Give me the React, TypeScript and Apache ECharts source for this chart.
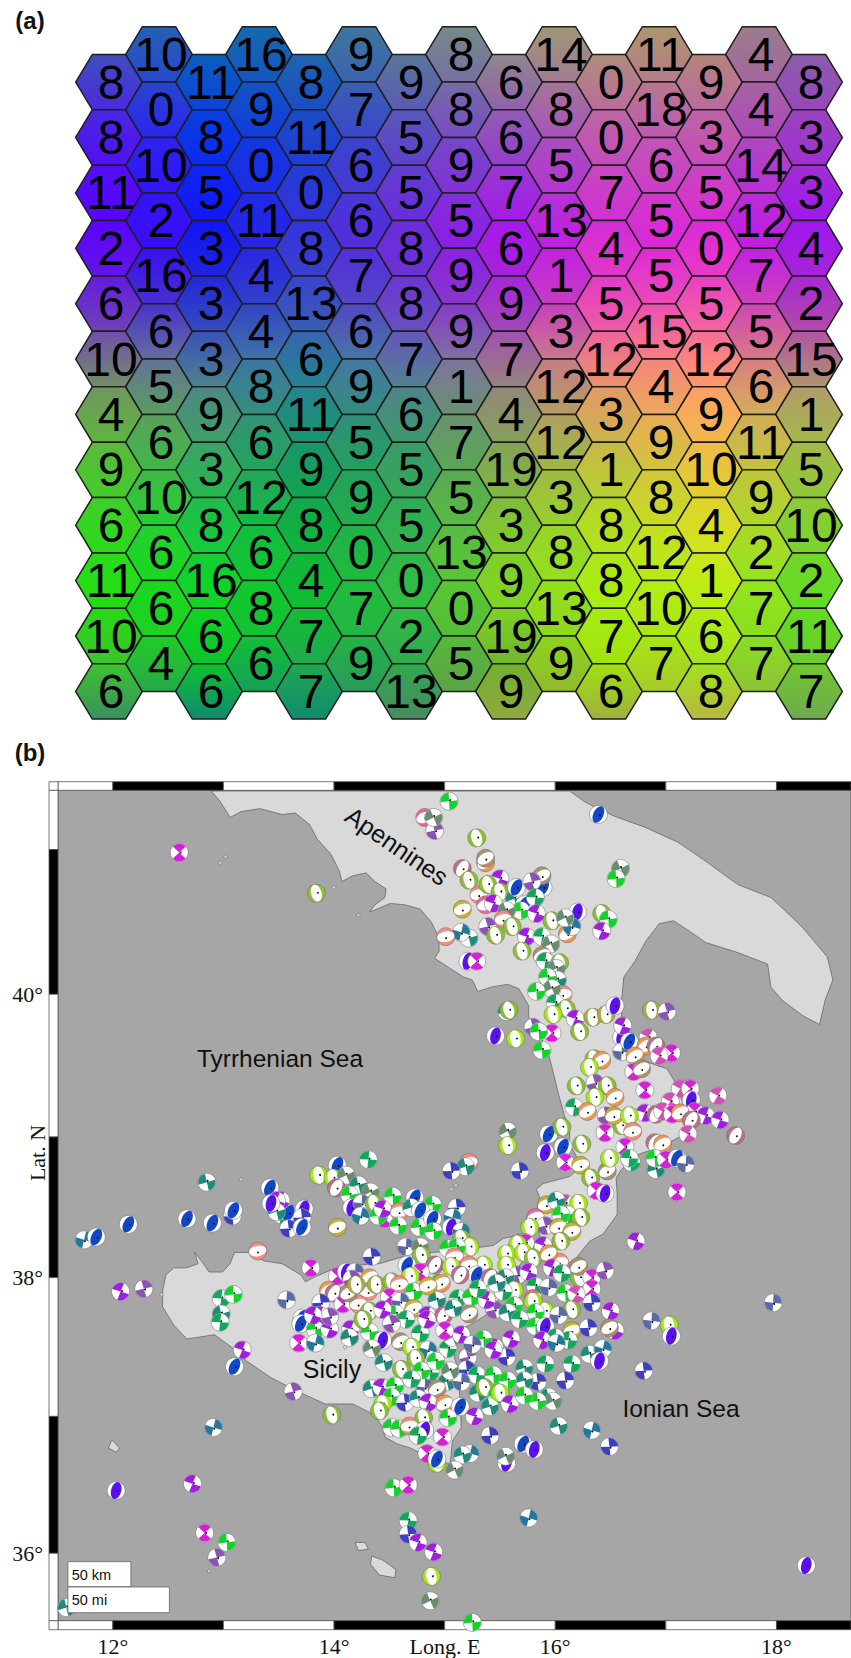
import React, { useEffect, useRef } from "react";
import * as echarts from "echarts";

// ---------- Panel (a): hit counts per hexagon, one list per column ----------
const hexCounts: number[][] = [
  [8, 8, 11, 2, 6, 10, 4, 9, 6, 11, 10, 6],
  [10, 0, 10, 2, 16, 6, 5, 6, 10, 6, 6, 4],
  [11, 8, 5, 3, 3, 3, 9, 3, 8, 16, 6, 6],
  [16, 9, 0, 11, 4, 4, 8, 6, 12, 6, 8, 6],
  [8, 11, 0, 8, 13, 6, 11, 9, 8, 4, 7, 7],
  [9, 7, 6, 6, 7, 6, 9, 5, 9, 0, 7, 9],
  [9, 5, 5, 8, 8, 7, 6, 5, 5, 0, 2, 13],
  [8, 8, 9, 5, 9, 9, 1, 7, 5, 13, 0, 5],
  [6, 6, 7, 6, 9, 7, 4, 19, 3, 9, 19, 9],
  [14, 8, 5, 13, 1, 3, 12, 12, 3, 8, 13, 9],
  [0, 0, 7, 4, 5, 12, 3, 1, 8, 8, 7, 6],
  [11, 18, 6, 5, 5, 15, 4, 9, 8, 12, 10, 7],
  [9, 3, 5, 0, 5, 12, 9, 10, 4, 1, 6, 8],
  [4, 4, 14, 12, 7, 5, 6, 11, 9, 2, 7, 7],
  [8, 3, 3, 4, 2, 15, 1, 5, 10, 2, 11, 7],
];

// colours at every 2nd column (0,2,...,14) and at these row positions
const colourRows = [-0.26, 1.55, 3.35, 4.79, 5.43, 6.24, 7.32, 8.58, 9.85, 11.11, 11.83];
const colourGrid = [
  ["#3d5ab5", "#0a68b0", "#1f6ba8", "#5a8090", "#909480", "#ac9a6c", "#b09070", "#8565a5"],
  ["#4f14f0", "#0a30f0", "#1a40d0", "#5a48c8", "#9048c5", "#c055b5", "#c055b5", "#a038c8"],
  ["#5c00ff", "#1510f5", "#3a30dc", "#6e25e0", "#aa10f0", "#d525dd", "#e020dc", "#a010f5"],
  ["#6a35c0", "#2f40c0", "#3a55b8", "#6a45c5", "#a03cc0", "#f050b0", "#f05fa8", "#b040b0"],
  ["#7a7090", "#4a6ab0", "#307a9f", "#5f70ac", "#a06f98", "#f07f80", "#ff8080", "#b07090"],
  ["#70a050", "#4f9078", "#20888a", "#4a8a80", "#908f70", "#e0a060", "#ffa860", "#b0a860"],
  ["#55c035", "#35a860", "#159a60", "#35a060", "#80a850", "#c0c040", "#e8c040", "#a0c040"],
  ["#30d820", "#15c840", "#10b040", "#30b050", "#80c830", "#b0e020", "#d8e020", "#80d030"],
  ["#20e010", "#10d820", "#10c030", "#30c040", "#80d820", "#a8f010", "#b8f010", "#60e020"],
  ["#40c030", "#10c030", "#20a850", "#30a850", "#70b030", "#a0e010", "#a0e020", "#70c830"],
  ["#3a9060", "#108a70", "#108a70", "#4a8a60", "#90a840", "#a0b040", "#b8b840", "#70a850"],
];

// ---------- Panel (b): coast lines, [lon, lat] ----------
const peninsulaCoast = [
  [12.89,41.4],[12.97,41.33],[13.06,41.22],[13.16,41.26],[13.33,41.28],[13.53,41.24],[13.65,41.25],[13.78,41.17],[13.85,41.07],[13.97,40.97],
  [14.05,40.85],[14.07,40.78],[14.17,40.82],[14.29,40.84],[14.37,40.78],[14.47,40.73],[14.46,40.67],[14.37,40.62],[14.32,40.57],[14.51,40.63],
  [14.64,40.62],[14.78,40.59],[14.88,40.5],[14.95,40.39],[14.95,40.3],[14.91,40.25],[15.05,40.18],[15.17,40.12],[15.25,40.1],[15.3,40.02],
  [15.42,40.05],[15.57,40.07],[15.67,40.04],[15.76,39.92],[15.76,39.84],[15.86,39.72],[15.94,39.58],[15.98,39.46],[16.03,39.3],[16.08,39.16],
  [16.13,39.04],[16.13,38.95],[16.18,38.88],[16.23,38.79],[16.13,38.72],[15.89,38.67],[15.83,38.63],[15.86,38.57],[15.82,38.44],[15.86,38.3],
  [15.93,38.19],[15.97,38.11],[16.13,38.11],[16.19,38.14],[16.31,38.26],[16.43,38.31],[16.56,38.45],[16.56,38.59],[16.55,38.71],[16.59,38.76],
  [16.67,38.83],[16.76,38.88],[16.92,38.92],[17.05,38.97],[17.17,39.02],[17.22,39.13],[17.15,39.25],[17.08,39.39],[17.01,39.48],[16.82,39.53],
  [16.61,39.63],[16.54,39.73],[16.6,39.8],[16.6,39.96],[16.62,40.12],[16.72,40.23],[16.82,40.37],[16.94,40.49],[17.07,40.51],[17.21,40.44],
  [17.36,40.36],[17.65,40.29],[17.92,40.21],[17.95,40.05],[18.05,39.96],[18.24,39.85],[18.39,39.79],[18.44,39.96],[18.51,40.1],[18.46,40.26],
  [18.24,40.46],[18.05,40.6],[17.95,40.67],[17.65,40.76],[17.36,40.92],[17.11,41.05],[16.82,41.15],[16.53,41.23],[16.28,41.32],[16.13,41.4],
];
const sicilyCoast = [
  [12.45,37.91],[12.48,38.02],[12.55,38.07],[12.67,38.07],[12.77,38.1],[12.74,38.18],[12.8,38.12],[12.87,38.04],[12.99,38.04],[13.06,38.1],
  [13.1,38.18],[13.26,38.18],[13.36,38.12],[13.53,38.1],[13.7,38.02],[13.74,37.97],[13.84,38.01],[14.05,38.08],[14.41,38.1],[14.71,38.17],
  [15.07,38.19],[15.44,38.23],[15.53,38.28],[15.59,38.29],[15.72,38.32],[15.77,38.19],[15.68,38.09],[15.54,37.95],[15.45,37.77],[15.23,37.66],
  [15.09,37.61],[15.09,37.42],[15.12,37.35],[15.14,37.11],[15.15,36.92],[15.07,36.82],[15.05,36.66],[14.88,36.66],[14.79,36.73],[14.69,36.77],
  [14.57,36.8],[14.46,36.85],[14.44,36.92],[14.39,36.98],[14.32,37.03],[14.17,37.09],[13.92,37.09],[13.7,37.17],[13.43,37.28],[13.21,37.4],
  [13.09,37.49],[12.92,37.59],[12.67,37.56],[12.55,37.66],[12.45,37.79],
];
const maltaCoast = [[14.34,35.98],[14.44,35.95],[14.56,35.88],[14.55,35.82],[14.41,35.84],[14.33,35.92]];
const gozoCoast = [[14.19,36.08],[14.28,36.08],[14.31,36.03],[14.22,36.02]];
const pantelleriaCoast = [[11.99,36.83],[12.06,36.77],[12.03,36.74],[11.96,36.77]];
const tinyIslands = [[14.0,40.74],[14.22,40.55],[12.97,40.91],[13.02,40.95],[15.06,38.63],[15.1,38.66],[13.16,38.7],[12.44,37.88],[12.87,35.87],[14.1,37.5]];

// ---------- Panel (b): focal mechanisms, [lon, lat, SOM colour key] ----------
const northBalls: [number, number, string][] = [
  [15.04,41.33,"G"],[14.82,41.22,"H"],[14.91,41.13,"p"],[14.9,41.22,"A"],[15.29,41.08,"L"],[15.37,40.91,"O"],[15.37,40.94,"W"],[15.16,40.87,"R"],[15.31,40.69,"S"],
  [15.37,40.62,"H"],[15.5,40.8,"P"],[15.89,40.74,"B"],[15.88,40.82,"W"],[15.22,40.79,"L"],[15.39,40.76,"L"],[15.5,40.71,"L"],[15.44,40.63,"P"],
  [15.63,40.66,"T"],[15.65,40.74,"B"],[15.79,40.78,"p"],[15.72,40.62,"B"],[15.82,40.67,"g"],[15.69,40.58,"G"],[15.56,40.58,"A"],[15.83,40.56,"P"],
  [15.16,40.59,"N"],[15.97,40.51,"L"],[16.2,40.57,"V"],[16.11,40.42,"O"],[16.15,40.47,"t"],[16.09,40.53,"A"],[16.42,40.56,"L"],[16.48,40.52,"G"],[16.42,40.44,"P"],
  [15.53,40.52,"S"],[15.39,40.47,"p"],[15.61,40.47,"L"],[15.46,40.41,"L"],[15.74,40.4,"P"],[15.88,40.4,"g"],[15.96,40.35,"A"],[15.22,40.39,"T"],[15.15,40.43,"t"],
  [15.01,40.4,"S"],[15.21,40.23,"V"],[15.29,40.23,"M"],[15.7,40.3,"L"],[15.88,40.27,"W"],[15.91,40.23,"g"],[16.04,40.22,"L"],[16.01,40.18,"A"],[16.02,40.1,"T"],
  [15.93,40.12,"G"],[16.07,40.0,"S"],[15.97,40.04,"A"],[15.83,40.02,"G"],[15.56,39.88,"T"],[15.58,39.89,"L"],[16.0,39.94,"g"],[16.1,39.9,"L"],[15.98,39.86,"Y"],
  [16.39,41.24,"B"],[16.59,40.87,"A"],[16.55,40.8,"G"],[12.6,40.98,"M"],[13.84,40.7,"L"],
];
const calabriaBalls: [number, number, string][] = [
  [16.18,39.83,"P"],[16.22,39.74,"L"],[16.34,39.84,"l"],[16.46,39.86,"l"],[16.54,39.92,"V"],[16.87,39.89,"l"],[17.01,39.88,"p"],[15.46,39.71,"V"],[15.64,39.69,"Y"],
  [15.8,39.77,"p"],[15.97,39.73,"M"],[15.85,39.74,"G"],[15.88,39.61,"G"],[16.6,39.7,"V"],[16.61,39.78,"P"],[16.6,39.6,"K"],[16.67,39.67,"B"],[16.84,39.7,"m"],
  [16.82,39.64,"O"],[16.91,39.64,"R"],[17.05,39.59,"M"],[16.94,39.57,"m"],[16.72,39.57,"O"],[16.71,39.46,"M"],[16.78,39.48,"W"],[16.35,39.55,"L"],[16.42,39.54,"O"],
  [16.31,39.49,"Y"],[16.19,39.36,"L"],[16.36,39.38,"p"],[16.47,39.36,"L"],[16.54,39.28,"O"],[16.36,39.28,"Y"],[16.81,39.33,"M"],[17.13,39.34,"m"],[17.22,39.34,"M"],
  [17.47,39.29,"m"],[17.23,39.26,"V"],[17.04,39.25,"m"],[16.81,39.17,"P"],[16.91,39.16,"R"],[16.97,39.18,"m"],[17.06,39.16,"M"],[17.26,39.18,"M"],[17.13,39.17,"O"],
  [17.36,39.15,"P"],[17.49,39.12,"P"],[17.23,39.12,"R"],[17.2,39.02,"m"],[17.63,39.01,"R"],[16.17,39.21,"g"],[16.29,39.18,"O"],[16.46,39.15,"p"],[16.6,39.08,"L"],
  [16.53,39.15,"N"],[16.67,39.15,"Y"],[16.45,39.03,"M"],[16.7,39.04,"S"],[16.63,38.93,"M"],[15.57,39.04,"A"],[15.57,38.94,"Y"],[15.94,39.02,"B"],[16.06,39.07,"L"],
  [16.24,38.95,"L"],[15.91,38.89,"V"],[16.07,38.93,"B"],[16.09,38.82,"M"],[16.23,38.8,"N"],[16.47,38.76,"W"],[16.49,38.85,"Y"],[16.69,38.82,"g"],[16.67,38.85,"g"],
  [16.9,38.96,"R"],[16.97,38.95,"O"],[16.91,38.77,"T"],[16.9,38.85,"G"],[17.0,38.84,"M"],[17.1,38.85,"B"],[17.18,38.81,"K"],[15.68,38.76,"b"],[16.32,38.71,"L"],
  [16.37,38.62,"M"],[16.45,38.6,"V"],[17.1,38.61,"M"],
];
const messinaBalls: [number, number, string][] = [
  [15.92,38.52,"N"],[16.09,38.53,"m"],[16.01,38.55,"T"],[16.21,38.53,"Y"],[16.11,38.45,"G"],[16.05,38.45,"G"],[16.23,38.43,"L"],[15.82,38.43,"H"],[15.91,38.37,"p"],
  [15.77,38.36,"Y"],[16.03,38.36,"N"],[16.15,38.33,"N"],[16.05,38.26,"L"],[15.89,38.23,"P"],[15.73,38.25,"M"],[15.66,38.24,"Y"],[15.56,38.17,"Y"],[15.71,38.18,"Y"],
  [15.8,38.14,"L"],[16.04,38.11,"S"],[15.94,38.17,"O"],[15.56,38.09,"Y"],[16.22,38.0,"L"],[16.21,38.08,"W"],[16.33,38.0,"M"],[16.45,38.05,"p"],[15.66,38.02,"p"],
  [15.76,38.04,"P"],[15.97,38.07,"P"],[16.06,38.03,"g"],[15.55,38.0,"T"],[15.82,37.94,"g"],[15.94,37.93,"K"],[16.33,37.92,"M"],[15.63,37.91,"Y"],[15.53,37.9,"g"],
  [16.09,37.89,"G"],[16.19,37.88,"m"],[15.8,37.85,"H"],[16.33,37.82,"b"],[15.8,37.83,"Y"],[15.63,37.8,"G"],[16.15,37.77,"L"],[15.45,37.77,"p"],[15.91,37.76,"Y"],
  [15.57,37.75,"T"],[15.82,37.75,"G"],[16.03,37.73,"K"],[16.5,37.76,"P"],[15.68,37.7,"g"],[15.82,37.65,"G"],[15.91,37.65,"V"],[16.15,37.62,"N"],[16.3,37.64,"b"],
  [16.54,37.62,"P"],[16.49,37.64,"W"],[16.87,37.69,"K"],[15.6,37.56,"P"],[16.12,37.55,"g"],[16.0,37.57,"g"],[15.88,37.55,"P"],[16.01,37.53,"t"],[15.45,37.5,"P"],
  [15.56,37.43,"b"],[16.31,37.45,"T"],[16.43,37.49,"t"],[16.4,37.4,"V"],[16.8,37.33,"b"],[15.91,37.38,"g"],[16.15,37.38,"g"],[15.72,37.35,"T"],
];
const tyrrhenianBalls: [number, number, string][] = [
  [13.86,38.73,"Y"],[14.03,38.8,"B"],[14.31,38.84,"g"],[15.22,38.82,"S"],[15.19,38.79,"T"],[13.99,38.71,"Y"],[14.11,38.73,"A"],[14.22,38.66,"T"],[14.02,38.64,"R"],
  [14.14,38.59,"G"],[14.33,38.61,"A"],[14.53,38.58,"G"],[14.16,38.5,"V"],[14.25,38.53,"K"],[14.36,38.53,"L"],[14.24,38.44,"t"],[14.46,38.42,"M"],[14.4,38.44,"G"],
  [14.44,38.49,"P"],[14.73,38.57,"B"],[14.89,38.52,"G"],[14.59,38.47,"S"],[14.58,38.37,"G"],[14.7,38.5,"T"],[14.78,38.48,"B"],[14.77,38.36,"G"],[14.89,38.42,"B"],
  [15.11,38.5,"b"],[14.9,38.33,"G"],[15.07,38.43,"t"],[15.06,38.36,"V"],[15.15,38.33,"t"],[15.15,38.28,"L"],[13.52,38.45,"g"],[13.59,38.46,"B"],[13.52,38.55,"P"],
  [13.73,38.49,"V"],[13.71,38.43,"b"],[13.59,38.35,"b"],[13.71,38.36,"B"],[14.03,38.36,"N"],[11.74,38.27,"t"],[11.85,38.29,"B"],[12.14,38.38,"B"],[12.67,38.42,"B"],
  [12.9,38.39,"B"],[13.08,38.44,"b"],[13.09,38.48,"B"],[13.42,38.64,"B"],[13.48,38.55,"P"],[13.48,38.47,"T"],[13.43,38.53,"V"],[12.85,38.68,"T"],[15.06,38.76,"b"],
  [14.34,38.15,"b"],[13.31,38.19,"S"],
];
const sicilyBalls: [number, number, string][] = [
  [14.65,38.22,"K"],[14.78,38.22,"A"],[14.79,38.16,"L"],[14.66,38.09,"B"],[15.23,38.22,"Y"],[15.03,38.21,"G"],[15.11,38.22,"G"],[15.09,38.15,"S"],[14.91,38.09,"R"],
  [15.35,38.09,"Y"],[15.22,38.09,"S"],[15.06,38.08,"Y"],[15.29,38.02,"B"],[15.14,38.02,"R"],[15.41,38.0,"R"],[14.78,38.04,"M"],[14.69,38.01,"Y"],[14.96,37.97,"G"],
  [13.79,38.07,"M"],[14.03,38.01,"M"],[14.11,38.04,"V"],[14.19,38.04,"K"],[14.16,37.99,"p"],[14.32,38.0,"O"],[14.31,37.9,"S"],[13.95,37.91,"O"],[14.0,37.89,"R"],
  [13.57,37.84,"K"],[13.88,37.82,"b"],[14.08,37.81,"M"],[14.22,37.81,"S"],[14.38,37.95,"l"],[14.52,37.97,"L"],[14.59,37.95,"S"],[14.72,37.9,"G"],[14.5,37.86,"M"],
  [14.6,37.83,"K"],[14.93,37.84,"T"],[15.12,37.85,"g"],[15.24,37.86,"G"],[15.38,37.84,"P"],[15.47,37.96,"T"],[15.22,37.74,"W"],[14.72,37.78,"N"],[14.56,37.74,"G"],
  [14.84,37.73,"P"],[14.99,37.73,"R"],[13.87,37.73,"P"],[13.71,37.71,"B"],[13.7,37.67,"B"],[13.83,37.63,"G"],[13.68,37.53,"M"],[13.83,37.53,"t"],[13.96,37.63,"P"],
  [14.15,37.63,"P"],[14.32,37.61,"G"],[14.44,37.55,"V"],[14.34,37.49,"A"],[14.6,37.54,"W"],[14.78,37.6,"g"],[14.7,37.5,"Y"],[14.85,37.48,"t"],[14.74,37.42,"L"],
  [15.03,37.49,"g"],[15.07,37.57,"A"],[15.15,37.59,"P"],[15.35,37.56,"G"],[15.44,37.48,"P"],[15.21,37.43,"p"],[15.2,37.34,"b"],[14.45,37.39,"T"],[14.61,37.34,"L"],
  [14.87,37.32,"g"],[14.79,37.33,"G"],[15.29,37.3,"g"],[15.44,37.3,"G"],[15.02,37.25,"T"],[15.15,37.25,"K"],[14.34,37.2,"T"],[14.43,37.21,"P"],[14.55,37.22,"G"],
  [14.82,37.21,"K"],[14.93,37.2,"W"],[15.3,37.17,"T"],[15.36,37.21,"L"],[15.47,37.15,"G"],[14.52,37.14,"G"],[14.44,37.09,"Y"],[14.41,37.04,"L"],[14.64,37.1,"b"],
  [14.76,37.13,"T"],[14.85,37.1,"P"],[15.0,37.09,"O"],[15.14,37.07,"B"],[15.27,37.0,"P"],[15.41,37.07,"T"],[14.81,36.99,"L"],[15.03,36.99,"G"],[14.52,36.92,"G"],
  [14.59,36.91,"G"],[14.68,36.93,"S"],[14.82,36.9,"V"],[14.76,36.86,"g"],[14.98,36.85,"M"],[15.41,36.86,"b"],[16.09,37.26,"b"],[15.94,37.14,"T"],[15.84,37.25,"b"],
  [15.72,37.26,"T"],[15.57,37.26,"G"],[15.5,37.17,"Y"],[15.59,37.09,"P"],[15.98,37.11,"A"],[15.84,37.11,"G"],[15.72,37.15,"G"],
  [14.32,37.76,"L"],[14.44,37.77,"P"],[14.84,37.7,"P"],[14.65,37.7,"g"],[14.52,37.67,"p"],[14.26,37.7,"L"],[14.14,37.57,"T"],[13.96,37.72,"p"],[13.81,37.73,"P"],[14.13,37.89,"W"],
  [15.08,37.78,"T"],[15.0,37.62,"M"],[14.92,37.4,"G"],[15.05,37.33,"A"],[14.7,37.27,"g"],[15.25,37.52,"K"],[14.97,37.96,"O"],[15.3,37.92,"g"],[14.85,37.94,"N"],[14.2,37.95,"l"],
];
const southBalls: [number, number, string][] = [
  [13.63,37.18,"p"],[13.98,37.01,"L"],[14.84,36.73,"M"],[15.23,36.73,"t"],[15.16,36.72,"T"],[14.93,36.66,"Y"],[14.93,36.69,"B"],[15.09,36.61,"A"],[14.54,36.48,"G"],
  [14.67,36.5,"M"],[15.56,36.66,"V"],[15.55,36.71,"A"],[15.71,36.8,"B"],[15.81,36.76,"V"],[16.03,36.93,"T"],[16.33,36.9,"t"],[16.49,36.78,"b"],[12.07,37.9,"P"],
  [12.28,37.92,"p"],[12.98,37.85,"g"],[13.09,37.88,"G"],[12.98,37.74,"T"],[12.97,37.68,"g"],[13.17,37.48,"P"],[13.1,37.36,"B"],[12.91,36.92,"t"],[12.03,36.46,"V"],
  [12.72,36.51,"P"],[12.83,36.15,"M"],[13.03,36.08,"G"],[12.94,35.97,"p"],[11.58,35.6,"T"],[14.67,36.24,"g"],[14.67,36.14,"b"],[14.76,36.08,"P"],[14.9,36.01,"P"],
  [15.76,36.26,"t"],[14.88,35.83,"Y"],[14.87,35.65,"A"],[15.25,35.49,"G"],[18.27,35.91,"V"],[17.97,37.82,"K"],[16.73,38.26,"P"],[17.03,37.66,"Y"],[17.05,37.58,"V"],
];

const ballColours: Record<string, string> = {
  G: "#14d22c", g: "#12a85c", T: "#1e8c78", t: "#24789c", B: "#1248c8", b: "#3c40bc", V: "#5a10f0", P: "#a01ee0", p: "#8c52b4", M: "#d81ed8", m: "#d250b4",
  S: "#f48c80", H: "#f06498", O: "#f09650", Y: "#a4ec10", L: "#8cc034", l: "#a8b044", N: "#c8b030", W: "#aa9070", R: "#b87088", K: "#5a6aa4", A: "#6a8c70",
};
// mechanism drawn for each colour: q = quadrants, c = crescents, b = central band; rotation in degrees
const ballMechanisms: Record<string, [string, number]> = {
  G: ["q", -50], g: ["q", -40], T: ["q", -60], t: ["q", 60], B: ["b", 25], b: ["q", 40], V: ["b", 15], P: ["q", -25], p: ["q", 30], M: ["q", 0], m: ["q", -15],
  S: ["c", 80], H: ["c", 70], O: ["c", 60], Y: ["c", -10], L: ["c", -15], l: ["c", -5], N: ["c", 70], W: ["c", 60], R: ["c", 30], K: ["q", 50], A: ["q", -70],
};

const lonBands: [number, number, boolean][] = [[11,12,false],[12,13,true],[13,14,false],[14,15,true],[15,16,false],[16,17,true],[17,18,false],[18,19,true]];
const latBands: [number, number, boolean][] = [[42,41,false],[41,40,true],[40,39,false],[39,38,true],[38,37,false],[37,36,true],[36,35,false]];
const lonTickLabels = [12, 14, 16, 18];
const latTickLabels = [36, 38, 40];

const merc = (lat: number) => Math.log(Math.tan(Math.PI / 4 + (lat * Math.PI) / 360));
const allBalls = [...northBalls, ...calabriaBalls, ...tyrrhenianBalls, ...messinaBalls, ...sicilyBalls, ...southBalls];
const landShapes = [peninsulaCoast, sicilyCoast, maltaCoast, gozoCoast, pantelleriaCoast];

const hexToRgb = (h: string) => [1, 3, 5].map((i) => parseInt(h.slice(i, i + 2), 16));
function colourAt(col: number, v: number) {
  const cf = Math.min(6.999, Math.max(0, col / 2));
  const c0 = Math.floor(cf);
  let r0 = 0;
  while (r0 < colourRows.length - 2 && v > colourRows[r0 + 1]) r0++;
  const rt = Math.min(1, Math.max(0, (v - colourRows[r0]) / (colourRows[r0 + 1] - colourRows[r0])));
  const ct = cf - c0;
  const mix = (a: number[], b: number[], t: number) => a.map((x, i) => x + (b[i] - x) * t);
  const top = mix(hexToRgb(colourGrid[r0][c0]), hexToRgb(colourGrid[r0][c0 + 1]), ct);
  const bot = mix(hexToRgb(colourGrid[r0 + 1][c0]), hexToRgb(colourGrid[r0 + 1][c0 + 1]), ct);
  const m = mix(top, bot, rt).map(Math.round);
  return `rgb(${m[0]},${m[1]},${m[2]})`;
}

const hexData: number[][] = [];
hexCounts.forEach((col, c) => col.forEach((n, r) => hexData.push([c, c % 2 === 1 ? r : r + 0.5, n])));

function renderHex(_: any, api: any) {
  const col = api.value(0);
  const v = api.value(1);
  const [x, y] = api.coord([col, v]);
  const rx = (api.size([1, 0])[0] * 2) / 3;
  const ry = api.size([0, 1])[1] / 2;
  return {
    type: "group",
    children: [
      {
        type: "polygon",
        shape: { points: [[x - rx, y], [x - rx / 2, y - ry], [x + rx / 2, y - ry], [x + rx, y], [x + rx / 2, y + ry], [x - rx / 2, y + ry]] },
        style: {
          fill: new echarts.graphic.LinearGradient(0, 0, 0, 1, [
            { offset: 0, color: colourAt(col, v - 0.45) },
            { offset: 1, color: colourAt(col, v + 0.45) },
          ]),
          stroke: "#1f1f1f",
          lineWidth: 1.5,
        },
      },
      {
        type: "text",
        style: { text: String(api.value(2)), x: x + 2, y, align: "center", verticalAlign: "middle", fontFamily: "Liberation Sans", fontSize: 48, fill: "#000" },
      },
    ],
  };
}

function renderLand(params: any, api: any) {
  const pts = landShapes[params.dataIndex].map(([lon, lat]) => api.coord([lon, merc(lat)]));
  return { type: "polygon", shape: { points: pts }, style: { fill: "#d9d9d9", stroke: "#5c5c5c", lineWidth: 0.7 } };
}

function renderBall(params: any, api: any) {
  const [x, y] = api.coord([api.value(0), api.value(1)]);
  const key = allBalls[params.dataIndex][2];
  const fill = ballColours[key];
  const [kind, rot] = ballMechanisms[key];
  const r = 9;
  const a = ((rot - 90) * Math.PI) / 180;
  const children: any[] = [];
  if (kind === "q") {
    const w = (47 * Math.PI) / 180;
    children.push({ type: "circle", shape: { cx: 0, cy: 0, r }, style: { fill: "#fff", stroke: "#666", lineWidth: 0.5 } });
    children.push({ type: "sector", shape: { cx: 0, cy: 0, r: r - 0.3, r0: 0, startAngle: a - w, endAngle: a + w }, style: { fill } });
    children.push({ type: "sector", shape: { cx: 0, cy: 0, r: r - 0.3, r0: 0, startAngle: a + Math.PI - w, endAngle: a + Math.PI + w }, style: { fill } });
  } else if (kind === "c") {
    children.push({ type: "circle", shape: { cx: 0, cy: 0, r }, style: { fill, stroke: "#666", lineWidth: 0.5 } });
    children.push({ type: "ellipse", rotation: -(rot * Math.PI) / 180, shape: { cx: 0, cy: 0, rx: r * 0.58, ry: r - 0.3 }, style: { fill: "#fff" } });
  } else {
    children.push({ type: "circle", shape: { cx: 0, cy: 0, r }, style: { fill: "#fff", stroke: "#666", lineWidth: 0.5 } });
    children.push({ type: "ellipse", rotation: -(rot * Math.PI) / 180, shape: { cx: 0, cy: 0, rx: r * 0.56, ry: r - 0.3 }, style: { fill } });
  }
  children.push({ type: "circle", shape: { cx: -Math.sin(a) * 1.5, cy: Math.cos(a) * 1.5, r: 0.9 }, style: { fill: "#000" } });
  return { type: "group", x, y, children };
}

function renderFrame(params: any, api: any) {
  const cs = params.coordSys;
  const items: any[] = [];
  const band = (x: number, y: number, width: number, height: number, black: boolean) => {
    items.push({ type: "rect", shape: { x, y, width, height }, style: { fill: black ? "#000" : "#fff", stroke: "#555", lineWidth: 0.8 } });
  };
  const strip = 9;
  lonBands.forEach(([a, b, black]) => {
    const x0 = Math.max(cs.x, api.coord([a, merc(38)])[0]);
    const x1 = Math.min(cs.x + cs.width, api.coord([b, merc(38)])[0]);
    band(x0, cs.y - 8.6, x1 - x0, 8.6, black);
    band(x0, cs.y + cs.height, x1 - x0, strip, black);
  });
  latBands.forEach(([a, b, black]) => {
    const y0 = Math.max(cs.y, api.coord([15, merc(a)])[1]);
    const y1 = Math.min(cs.y + cs.height, api.coord([15, merc(b)])[1]);
    band(cs.x - strip, y0, strip, y1 - y0, black);
  });
  band(cs.x - strip, cs.y - 8.6, strip, 8.6, false);
  band(cs.x - strip, cs.y + cs.height, strip, strip, false);
  return { type: "group", children: items };
}

const sans = "Liberation Sans";
const serif = "Liberation Serif";
const labelText = (text: string, x: number, y: number, fontSize: number, extra: any = {}, fontFamily = sans) => ({
  type: "text",
  z: 100,
  x,
  y,
  rotation: extra.rotation || 0,
  style: { text, x: 0, y: 0, fontSize, fontFamily, fontWeight: extra.fontWeight || "normal", align: extra.align || "center", verticalAlign: "middle", fill: "#111" },
});

export default function App() {
  const ref = useRef<HTMLDivElement>(null);
  useEffect(() => {
    document.body.style.margin = "0";
    const chart = echarts.init(ref.current!, undefined, { renderer: "svg" });
    const hiddenAxis = { show: false, splitLine: { show: false } };
    chart.setOption({
      animation: false,
      backgroundColor: "#fff",
      grid: [
        { left: 109, top: 54.4, width: 700, height: 637, containLabel: false },
        { left: 58, top: 790.3, width: 793, height: 830.4, show: true, backgroundColor: "#a6a6a6", borderWidth: 0.8, borderColor: "#555", containLabel: false },
      ],
      xAxis: [
        { ...hiddenAxis, type: "value", gridIndex: 0, min: 0, max: 14 },
        {
          type: "value",
          gridIndex: 1,
          min: 11.504,
          max: 18.674,
          axisLine: { show: false },
          axisTick: { show: false },
          splitLine: { show: false },
          axisLabel: { customValues: lonTickLabels, formatter: (v: number) => `${v}°`, fontFamily: serif, fontSize: 22, color: "#111", margin: 15 },
        },
      ],
      yAxis: [
        { ...hiddenAxis, type: "value", gridIndex: 0, min: 0, max: 11.5, inverse: true },
        {
          type: "value",
          gridIndex: 1,
          min: 0.66359,
          max: 0.79526,
          axisLine: { show: false },
          axisTick: { show: false },
          splitLine: { show: false },
          axisLabel: {
            customValues: latTickLabels.map(merc),
            formatter: (v: number) => `${latTickLabels.find((t) => Math.abs(merc(t) - v) < 1e-4)}°`,
            fontFamily: serif,
            fontSize: 22,
            color: "#111",
            margin: 15,
          },
        },
      ],
      series: [
        { type: "custom", name: "SOM", xAxisIndex: 0, yAxisIndex: 0, silent: true, renderItem: renderHex, data: hexData },
        { type: "custom", name: "land", xAxisIndex: 1, yAxisIndex: 1, silent: true, z: 2, renderItem: renderLand, data: landShapes.map((_, i) => [i]) },
        {
          type: "scatter",
          name: "islets",
          xAxisIndex: 1,
          yAxisIndex: 1,
          silent: true,
          z: 3,
          symbolSize: 3.5,
          itemStyle: { color: "#d9d9d9", borderColor: "#5c5c5c", borderWidth: 0.6 },
          data: tinyIslands.map(([lon, lat]) => [lon, merc(lat)]),
        },
        { type: "custom", name: "frame", xAxisIndex: 1, yAxisIndex: 1, silent: true, z: 4, renderItem: renderFrame, data: [[15, merc(38)]] },
        { type: "custom", name: "mechanisms", xAxisIndex: 1, yAxisIndex: 1, silent: true, z: 5, renderItem: renderBall, data: allBalls.map(([lon, lat]) => [lon, merc(lat)]) },
      ],
      graphic: [
        labelText("(a)", 30, 20, 24, { fontWeight: "bold" }),
        labelText("(b)", 30, 752, 24, { fontWeight: "bold" }),
        labelText("Apennines", 397, 846, 25, { rotation: -0.6 }),
        labelText("Tyrrhenian Sea", 280, 1058, 24.5),
        labelText("Sicily", 332, 1369, 25),
        labelText("Ionian Sea", 681, 1408, 24.5),
        labelText("Long. E", 445, 1646, 22, {}, serif),
        labelText("Lat. N", 37, 1153, 22, { rotation: Math.PI / 2 }, serif),
        { type: "rect", z: 99, shape: { x: 67.9, y: 1561.7, width: 63, height: 25 }, style: { fill: "#fff", stroke: "#666", lineWidth: 0.8 } },
        { type: "rect", z: 99, shape: { x: 67.9, y: 1587, width: 101.5, height: 25.7 }, style: { fill: "#fff", stroke: "#666", lineWidth: 0.8 } },
        labelText("50 km", 71.7, 1575, 14.5, { align: "left" }),
        labelText("50 mi", 71.7, 1600, 14.5, { align: "left" }),
      ],
    });
    return () => chart.dispose();
  }, []);
  return <div ref={ref} style={{ width: 851, height: 1658 }} />;
}
